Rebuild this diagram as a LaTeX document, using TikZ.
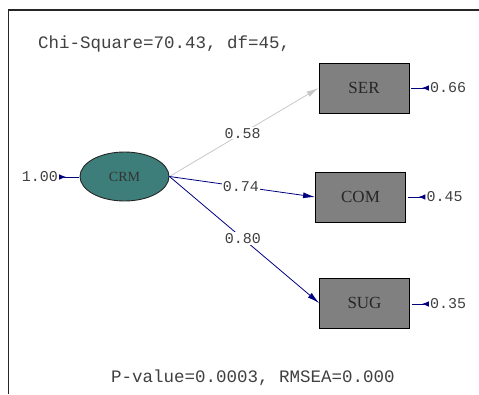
\documentclass[tikz,border=0pt]{standalone}
\usepackage{fontspec}
\usetikzlibrary{arrows.meta,shapes.geometric}
\newfontfamily\lismono{Liberation Mono}
\newfontfamily\lisserif{Liberation Serif}
\definecolor{crmteal}{RGB}{62,126,122}
\definecolor{boxgray}{RGB}{128,128,128}
\definecolor{pathnavy}{RGB}{0,0,128}
\definecolor{pathgray}{RGB}{200,200,200}
\definecolor{txtgray}{RGB}{64,64,64}

\tikzset{
	obsbox/.style={draw=black, fill=boxgray, minimum width=90pt, minimum height=50pt, line width=0.9pt, text=black!85, font=\lisserif\fontsize{17}{17}\selectfont},
	latent/.style={ellipse, draw=black!85, fill=crmteal, minimum width=89pt, minimum height=49pt, inner sep=0pt, line width=0.9pt, text=black!80, font=\lisserif\fontsize{14}{14}\selectfont},
	coef/.style={fill=white, inner sep=1pt, text=txtgray, font=\lismono\fontsize{15}{15}\selectfont},
	errval/.style={inner sep=1pt, text=txtgray, font=\lismono\fontsize{15}{15}\selectfont},
	fitinfo/.style={inner sep=0pt, text=txtgray, font=\lismono\fontsize{17.5}{18}\selectfont},
	loadarrow/.style={draw=pathnavy, line width=0.8pt, -{Latex[length=12pt,width=6pt]}},
	errarrow/.style={draw=pathnavy, line width=0.9pt, {Latex[reversed,length=7pt,width=5.5pt]}-}
}

\begin{document}
\begin{tikzpicture}[x=1pt,y=1pt,yscale=-1,xscale=1]
		\useasboundingbox (0,0) rectangle (479,394);
		
		%Frame
		\draw [line width=1.5pt, black!85] (8.5,394) -- (8.5,10) -- (479,10) ;
		
		% Text Node
		\node [fitinfo, anchor=base west] (chi) at (38,48) {Chi-Square=70.43, df=45,};
		% Text Node
		\node [fitinfo, anchor=base west] (pval) at (111,382) {P-value=0.0003, RMSEA=0.000};
		
		%Latent variable
		\node [latent] (crm) at (124.5,176.5) {CRM};
		%Observed variables
		\node [obsbox] (ser) at (364,88) {SER};
		\node [obsbox] (com) at (360.5,197) {COM};
		\node [obsbox] (sug) at (364.5,303) {SUG};
		
		%Error values
		\node [errval] (e0) at (40,177) {1.00};
		\node [errval] (eser) at (448,88) {0.66};
		\node [errval] (ecom) at (444.5,197) {0.45};
		\node [errval] (esug) at (448,304) {0.35};
		
		%Loadings
		\draw [loadarrow, draw=pathgray] (crm.east) -- (ser.west) node [coef, pos=0.49] (lser) {0.58};
		\draw [loadarrow] (crm.east) -- (com.west) node [coef, pos=0.49] (lcom) {0.74};
		\draw [loadarrow] (crm.east) -- (sug.west) node [coef, pos=0.49] (lsug) {0.80};
		
		%Error arrows
		\draw [errarrow, shorten >=1pt] (e0.east) -- (e0.east -| crm.west) ;
		\draw [errarrow, shorten >=2pt] (eser.west) -- (eser.west -| ser.east) ;
		\draw [errarrow, shorten >=2pt] (ecom.west) -- (ecom.west -| com.east) ;
		\draw [errarrow, shorten >=2pt] (esug.west) -- (esug.west -| sug.east) ;
		
\end{tikzpicture}
\end{document}
